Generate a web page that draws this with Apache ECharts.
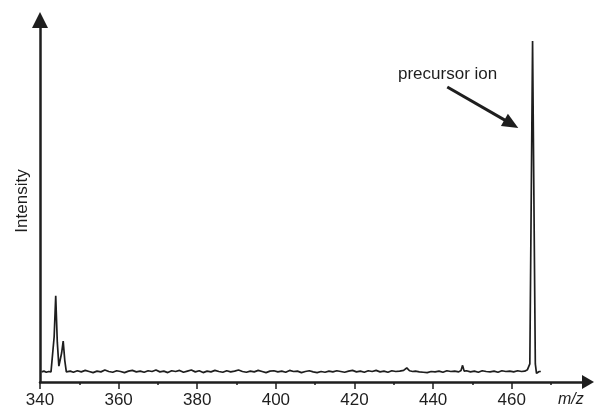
<!DOCTYPE html>
<html lang="en">
<head>
    <meta charset="UTF-8">
    <title>MS/MS spectrum</title>
    <script src="https://cdn.jsdelivr.net/npm/echarts@6.0.0/dist/echarts.min.js"></script>
    <style>
        * { margin: 0; padding: 0; box-sizing: border-box; }
        body { background: #fff; }
        #chart { width: 594px; height: 410px; }
    </style>
</head>
<body>
    <div id="chart"></div>
    <script>
        // m/z axis ticks
        const majorTicks = [340, 360, 380, 400, 420, 440, 460];
        const minorTicks = [350, 370, 390, 410, 430, 450, 470];

        // spectrum trace: [m/z, intensity (a.u.)]
        const spectrum = [
            [340.4, 2.8], [341.0, 3.0], [341.6, 2.7], [342.2, 2.9], [342.8, 2.8],
            [343.2, 3.0], [343.6, 12.5], [344.0, 23.8], [344.4, 11.0], [344.8, 4.4],
            [345.2, 4.6], [345.5, 8.0], [345.9, 11.3], [346.3, 6.0], [346.7, 2.8],
            [347.2, 2.5], [347.7, 3.0], [348.5, 2.7], [349.5, 3.1], [350.5, 2.8],
            [351.5, 3.2], [352.5, 2.9], [353.5, 2.6], [354.5, 3.0], [355.5, 2.8],
            [356.5, 3.3], [357.5, 2.9], [358.5, 2.7], [359.5, 3.1], [360.5, 2.9],
            [361.5, 2.6], [362.5, 3.0], [363.5, 3.2], [364.5, 2.8], [365.5, 3.0],
            [366.5, 2.7], [367.5, 3.1], [368.5, 2.9], [369.5, 3.3], [370.5, 2.8],
            [371.5, 3.0], [372.5, 2.6], [373.5, 3.1], [374.5, 2.9], [375.5, 3.2],
            [376.5, 2.7], [377.5, 3.0], [378.5, 3.3], [379.5, 2.8], [380.5, 3.1],
            [381.5, 2.6], [382.5, 3.0], [383.5, 2.8], [384.5, 3.2], [385.5, 2.9],
            [386.5, 2.7], [387.5, 3.1], [388.5, 2.8], [389.5, 3.0], [390.5, 3.3],
            [391.5, 2.9], [392.5, 2.7], [393.5, 3.0], [394.5, 2.8], [395.5, 3.2],
            [396.5, 2.9], [397.5, 2.6], [398.5, 3.0], [399.5, 3.1], [400.5, 2.8],
            [401.5, 3.0], [402.5, 2.7], [403.5, 3.2], [404.5, 2.9], [405.5, 3.0],
            [406.5, 2.6], [407.5, 2.9], [408.5, 3.1], [409.5, 2.8], [410.5, 2.6],
            [411.5, 2.9], [412.5, 2.7], [413.5, 3.0], [414.5, 2.8], [415.5, 3.1],
            [416.5, 2.9], [417.5, 2.7], [418.5, 3.0], [419.5, 3.2], [420.5, 2.8],
            [421.5, 3.0], [422.5, 2.7], [423.5, 3.1], [424.5, 2.9], [425.5, 3.2],
            [426.5, 2.8], [427.5, 3.0], [428.5, 2.7], [429.5, 3.1], [430.5, 2.9],
            [431.5, 3.0], [432.5, 3.2], [433.3, 3.9], [434.0, 3.1], [434.8, 2.9],
            [435.5, 3.0], [436.5, 2.8], [437.5, 2.7], [438.5, 2.6], [439.5, 2.9],
            [440.5, 2.8], [441.5, 3.0], [442.5, 2.7], [443.5, 3.1], [444.5, 2.9],
            [445.5, 3.0], [446.5, 2.8], [447.1, 3.2], [447.5, 4.6], [447.9, 3.0],
            [448.5, 3.1], [449.5, 2.8], [450.5, 3.0], [451.5, 2.7], [452.5, 3.1],
            [453.5, 2.9], [454.5, 2.8], [455.5, 3.0], [456.5, 2.7], [457.5, 3.1],
            [458.5, 2.9], [459.5, 3.0], [460.5, 2.8], [461.5, 3.1], [462.5, 2.9],
            [463.3, 3.0], [464.0, 3.4], [464.4, 3.2], [464.6, 5.0], [465.3, 94.2],
            [466.0, 5.0], [466.3, 2.4], [466.7, 2.7], [467.0, 2.9], [467.4, 2.9]
        ];

        // annotation arrow, in data coordinates
        const arrowFrom = [443.6, 81.5];
        const arrowTo = [459.9, 71.3];

        const ink = '#1e1e1e';
        const font = 'Liberation Sans, Arial, sans-serif';

        const chart = echarts.init(document.getElementById('chart'));

        chart.setOption({
            animation: false,
            grid: { left: 40, right: 6, top: 20, bottom: 28 },
            xAxis: [{
                type: 'value',
                min: 340,
                max: 479.4,
                axisLine: {
                    lineStyle: { color: ink, width: 2.5 },
                    symbol: ['none', 'triangle'],
                    symbolSize: [14, 12]
                },
                axisTick: {
                    customValues: majorTicks,
                    length: 7,
                    lineStyle: { color: ink, width: 1.5 }
                },
                axisLabel: {
                    customValues: majorTicks,
                    color: ink,
                    fontSize: 17,
                    fontFamily: font,
                    margin: 10
                },
                splitLine: { show: false }
            }, {
                type: 'value',
                min: 340,
                max: 479.4,
                position: 'bottom',
                axisLine: { show: false },
                axisTick: {
                    customValues: minorTicks,
                    length: 3,
                    lineStyle: { color: ink, width: 1.5 }
                },
                axisLabel: { show: false },
                splitLine: { show: false }
            }],
            yAxis: {
                type: 'value',
                min: 0,
                max: 100,
                name: 'Intensity',
                nameLocation: 'middle',
                nameRotate: 90,
                nameGap: 9,
                nameTextStyle: { color: ink, fontSize: 17, fontFamily: font },
                axisLine: {
                    lineStyle: { color: ink, width: 2.5 },
                    symbol: ['none', 'triangle'],
                    symbolSize: [16, 16]
                },
                axisTick: { show: false },
                axisLabel: { show: false },
                splitLine: { show: false }
            },
            graphic: [{
                type: 'text',
                left: 558,
                top: 392,
                style: {
                    text: 'm/z',
                    fill: ink,
                    font: 'italic 16px ' + font
                }
            }, {
                type: 'text',
                left: 398,
                top: 66,
                style: {
                    text: 'precursor ion',
                    fill: ink,
                    font: '17px ' + font
                }
            }],
            series: [{
                type: 'line',
                xAxisIndex: 0,
                data: spectrum,
                showSymbol: false,
                smooth: false,
                lineStyle: { color: ink, width: 1.7 },
                markLine: {
                    silent: true,
                    symbol: ['none', 'triangle'],
                    symbolSize: [14, 16],
                    label: { show: false },
                    lineStyle: { color: ink, width: 3, type: 'solid' },
                    data: [[{ coord: arrowFrom }, { coord: arrowTo }]]
                }
            }]
        });
    </script>
</body>
</html>
